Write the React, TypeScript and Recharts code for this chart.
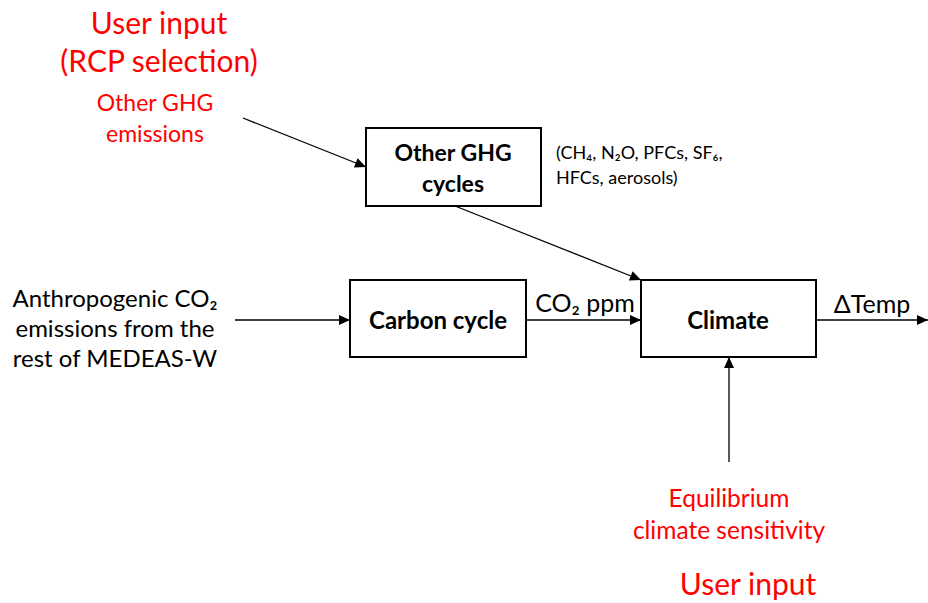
import React from "react";
import {
  ComposedChart,
  XAxis,
  YAxis,
  Scatter,
  ReferenceArea,
  ReferenceLine,
} from "recharts";

// Diagram units: one unit = one pixel of the 928x603 canvas, y grows downward.
const W = 928;
const H = 603;

const boxes = [
  { id: "ghg", x1: 366, x2: 541, y1: 128, y2: 206 },
  { id: "carbon", x1: 350, x2: 526, y1: 280, y2: 357 },
  { id: "climate", x1: 641, x2: 816, y1: 280, y2: 357 },
];

const arrows = [
  { from: [243, 118], to: [366, 167] },
  { from: [455, 206], to: [641, 280] },
  { from: [235, 320], to: [350, 320] },
  { from: [526, 320], to: [641, 320] },
  { from: [816, 320], to: [928, 320] },
  { from: [729, 462], to: [729, 357] },
];

const RED = "#ff0000";
const INK = "#000000";

const labels = [
  { x: 159, y: 22, lines: ["User input"], color: RED, size: 30, bold: false, anchor: "middle", gap: 0 },
  { x: 159, y: 60, lines: ["(RCP selection)"], color: RED, size: 30, bold: false, anchor: "middle", gap: 0 },
  { x: 155, y: 102, lines: ["Other GHG", "emissions"], color: RED, size: 23, bold: false, anchor: "middle", gap: 31 },
  { x: 453, y: 152, lines: ["Other GHG", "cycles"], color: INK, size: 23, bold: true, anchor: "middle", gap: 31 },
  { x: 556, y: 152, lines: ["(CH\u2084, N\u2082O, PFCs, SF\u2086,", "HFCs, aerosols)"], color: INK, size: 18, bold: false, anchor: "start", gap: 25 },
  { x: 115, y: 297, lines: ["Anthropogenic CO\u2082", "emissions from the", "rest of MEDEAS-W"], color: INK, size: 24, bold: false, anchor: "middle", gap: 30 },
  { x: 438, y: 319, lines: ["Carbon cycle"], color: INK, size: 24, bold: true, anchor: "middle", gap: 0 },
  { x: 728, y: 319, lines: ["Climate"], color: INK, size: 24, bold: true, anchor: "middle", gap: 0 },
  { x: 585, y: 302, lines: ["CO\u2082 ppm"], color: INK, size: 25, bold: false, anchor: "middle", gap: 0 },
  { x: 872, y: 303, lines: ["\u0394Temp"], color: INK, size: 25, bold: false, anchor: "middle", gap: 0 },
  { x: 729, y: 497, lines: ["Equilibrium", "climate sensitivity"], color: RED, size: 24.5, bold: false, anchor: "middle", gap: 32 },
  { x: 748, y: 583, lines: ["User input"], color: RED, size: 30, bold: false, anchor: "middle", gap: 0 },
];

const tips = arrows.map((a) => ({
  x: a.to[0],
  y: a.to[1],
  angle: Math.atan2(a.to[1] - a.from[1], a.to[0] - a.from[0]),
}));

function Arrowhead(props: any) {
  const { cx, cy, payload } = props;
  if (cx == null || cy == null) return null;
  const deg = (payload.angle * 180) / Math.PI;
  return (
    <path
      d="M0,0 L-11,-5 L-11,5 Z"
      fill={INK}
      transform={`translate(${cx},${cy}) rotate(${deg})`}
    />
  );
}

function TextBlock(props: any) {
  const { cx, cy, payload } = props;
  if (cx == null || cy == null) return null;
  return (
    <text
      x={cx}
      y={cy}
      fill={payload.color}
      fontSize={payload.size}
      fontWeight={payload.bold ? 700 : 400}
      textAnchor={payload.anchor}
      dominantBaseline="central"
      fontFamily="Lato, 'Open Sans', sans-serif"
    >
      {payload.lines.map((l: string, i: number) => (
        <tspan key={i} x={cx} y={cy + i * payload.gap}>
          {l}
        </tspan>
      ))}
    </text>
  );
}

export default function App() {
  return (
    <div style={{ width: W, height: H, background: "#fff" }}>
      <style>{`body{margin:0;background:#fff}`}</style>
      <ComposedChart width={W} height={H} margin={{ top: 0, right: 0, bottom: 0, left: 0 }}>
        <XAxis type="number" dataKey="x" domain={[0, W]} hide allowDataOverflow />
        <YAxis type="number" dataKey="y" domain={[0, H]} reversed hide allowDataOverflow />
        {arrows.map((a, i) => (
          <ReferenceLine
            key={`a${i}`}
            segment={[
              { x: a.from[0], y: a.from[1] },
              { x: a.to[0], y: a.to[1] },
            ]}
            stroke={INK}
            strokeWidth={1.3}
            ifOverflow="visible"
          />
        ))}
        {boxes.map((b) => (
          <ReferenceArea
            key={b.id}
            x1={b.x1}
            x2={b.x2}
            y1={b.y1}
            y2={b.y2}
            stroke={INK}
            strokeWidth={2}
            fill="#fff"
            fillOpacity={1}
            ifOverflow="visible"
          />
        ))}
        <Scatter data={tips} shape={<Arrowhead />} isAnimationActive={false} />
        <Scatter data={labels} shape={<TextBlock />} isAnimationActive={false} />
      </ComposedChart>
    </div>
  );
}
